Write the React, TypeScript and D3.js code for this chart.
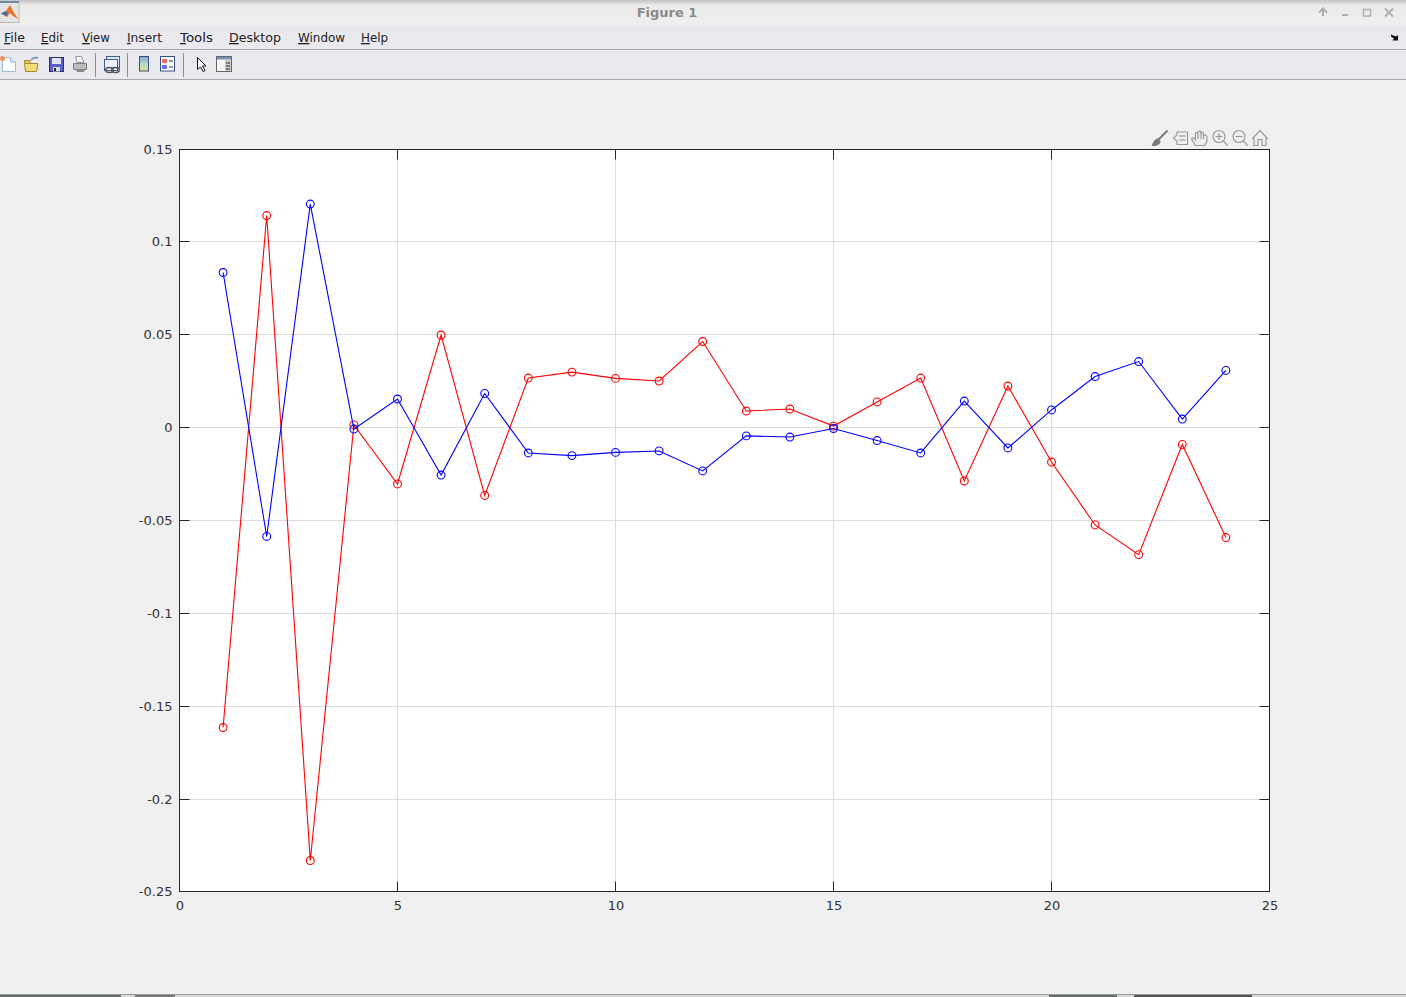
import React, { useRef, useEffect } from 'react';
import * as d3 from 'd3';

const xs = [1, 2, 3, 4, 5, 6, 7, 8, 9, 10, 11, 12, 13, 14, 15, 16, 17, 18, 19, 20, 21, 22, 23, 24];
const blueValues = [0.0837, -0.0586, 0.1206, -0.0007, 0.0155, -0.0255, 0.0185, -0.0136, -0.015, -0.0133, -0.0125, -0.0233, -0.0044, -0.005, -0.0004, -0.0069, -0.0136, 0.0144, -0.0109, 0.0096, 0.0276, 0.0357, 0.0047, 0.0309];
const redValues = [-0.1616, 0.1144, -0.2333, 0.0015, -0.0303, 0.05, -0.0365, 0.0268, 0.03, 0.0266, 0.0252, 0.0465, 0.009, 0.0101, 0.0009, 0.0139, 0.0268, -0.0287, 0.0225, -0.0185, -0.0524, -0.0684, -0.009, -0.0592];
const xTicks = [0, 5, 10, 15, 20, 25];
const yTicks = [-0.25, -0.2, -0.15, -0.1, -0.05, 0, 0.05, 0.1, 0.15];
const menuItems = ['File', 'Edit', 'View', 'Insert', 'Tools', 'Desktop', 'Window', 'Help'];
const menuLefts = [4, 41, 82, 127, 180, 229, 298, 361];
const menuWidths = [21, 23, 28, 35, 33, 52, 47, 27];

const W = 1406;
const H = 997;
const left = 179.5;
const right = 1269.5;
const top = 149.5;
const bottom = 891.5;

function Series({ values, color, x, y }: { values: number[]; color: string; x: any; y: any }) {
  const line = d3.line<number>().x((d, i) => x(xs[i])).y(d => y(d));
  return (
    <g>
      <path d={line(values) || ''} fill="none" stroke={color} strokeWidth={1.1} />
      {values.map((v, i) => (
        <circle key={i} cx={x(xs[i])} cy={y(v)} r={3.9} fill="none" stroke={color} strokeWidth={1.1} />
      ))}
    </g>
  );
}

function Toolbar() {
  const sep = [96, 128, 184];
  return (
    <g>
      {sep.map(s => <line key={s} x1={s - 0.5} x2={s - 0.5} y1={53} y2={77} stroke="#8e8e8e" />)}
      {/* new */}
      <path d="M2.500 57.500H10.500L15.500 62V71.500H2.500Z" fill="#fff" stroke="#9db8dc" />
      <path d="M10.500 57.500V62H15.500" fill="#dfe8f4" stroke="#9db8dc" />
      <circle cx={2.500} cy={58.500} r={2.500} fill="#f0925a" />
      {/* open */}
      <path d="M24.500 63.500H38L36.500 71.500H25.500Z" fill="#f2dc76" stroke="#a08a32" />
      <path d="M24.500 63V60.500H30V63" fill="#e8c95a" stroke="#a08a32" />
      <path d="M31 60Q34 56.500 38 58" fill="none" stroke="#5d86b5" strokeWidth={1.5} />
      {/* save */}
      <rect x={49.500} y={57.500} width={14} height={14} fill="#5860c4" stroke="#2a2f70" />
      <rect x={52} y={58} width={9} height={6} fill="#dfe2f2" />
      <rect x={53} y={67} width={7} height={4.500} fill="#d9d9d9" />
      <rect x={54} y={68} width={2} height={3} fill="#222" />
      {/* print */}
      <path d="M75.500 56.500H81.500L84 62.500H77Z" fill="#f2f2f2" stroke="#9a9a9a" />
      <path d="M73.500 63.500H86.500V69.500H73.500Z" fill="#bcbcbc" stroke="#7f7f7f" />
      <path d="M76 69.500H85L84 72H77Z" fill="#8a8a8a" />
      {/* link plot */}
      <rect x={106.500} y={56.500} width={13} height={11} fill="#dfe6f2" stroke="#3f5f90" />
      <rect x={104.500} y={59.500} width={13} height={11} fill="#eef2f8" stroke="#3f5f90" />
      <ellipse cx={109.500} cy={70} rx={3.800} ry={2.500} fill="none" stroke="#555" strokeWidth={1.4} />
      <ellipse cx={115.500} cy={70} rx={3.800} ry={2.500} fill="none" stroke="#555" strokeWidth={1.4} />
      {/* colorbar */}
      <defs>
        <linearGradient id="cbar" x1="0" x2="0" y1="0" y2="1">
          <stop offset="0" stopColor="#8f9fe0" />
          <stop offset="0.5" stopColor="#a8dcc8" />
          <stop offset="1" stopColor="#f2dc90" />
        </linearGradient>
      </defs>
      <rect x={139.500} y={56.500} width={9} height={14.500} fill="url(#cbar)" stroke="#35508a" />
      {/* legend */}
      <rect x={160.500} y={56.500} width={14} height={14.500} fill="#fff" stroke="#35508a" />
      <rect x={162} y={59} width={5} height={4} fill="#ec6a6a" />
      <rect x={162} y={65} width={5} height={4} fill="#6070ec" />
      <line x1={169} x2={173} y1={61} y2={61} stroke="#333" />
      <line x1={169} x2={173} y1={67} y2={67} stroke="#333" />
      {/* pointer */}
      <path d="M197.500 57.500V69.500L200.500 67L203 71.500L205 70.500L202.500 66H206Z" fill="#fff" stroke="#111" />
      {/* property editor */}
      <rect x={216.500} y={56.500} width={15} height={15} fill="#f4f4f4" stroke="#666" />
      <rect x={217} y={57} width={14} height={2.500} fill="#6f93bc" />
      <rect x={225} y={60} width={6} height={11} fill="#c8c8c8" />
      <line x1={226} x2={230} y1={63} y2={63} stroke="#333" />
      <line x1={226} x2={230} y1={66} y2={66} stroke="#333" />
      <line x1={226} x2={230} y1={69} y2={69} stroke="#333" />
    </g>
  );
}

function AxesToolbar() {
  const c = '#9a9a9a';
  return (
    <g fill="none" stroke={c} strokeWidth={1.2}>
      {/* brush */}
      <path d="M1167.500 130.500L1158 140" stroke="#7a7a7a" strokeWidth={2} />
      <path d="M1152.500 145.500Q1154 140 1157.500 139L1160 141.500Q1159 145.500 1152.500 145.500Z" fill="#7a7a7a" stroke="#7a7a7a" />
      {/* legend bubble */}
      <path d="M1177 132H1187.500V144.500H1177V141L1173.500 138L1177 135Z" />
      <line x1={1179} x2={1185.500} y1={136} y2={136} />
      <line x1={1179} x2={1185.500} y1={140} y2={140} />
      {/* hand */}
      <path d="M1195 145.500Q1194 142 1192 140Q1191 137.500 1194 138L1195.500 140V133Q1197.500 131.500 1198 134V131.500Q1200.500 130 1201 133V132.500Q1203.500 131.500 1203.500 134V135Q1206.500 134.500 1207 137V141L1204.500 145.500Z" />
      <path d="M1198 134V139M1201 133V139M1203.500 134V139" />
      {/* zoom in */}
      <circle cx={1219} cy={136.500} r={6} />
      <line x1={1223.500} x2={1227.500} y1={141} y2={145.500} />
      <line x1={1215.500} x2={1222.500} y1={136.500} y2={136.500} />
      <line x1={1219} x2={1219} y1={133} y2={140} />
      {/* zoom out */}
      <circle cx={1239} cy={136.500} r={6} />
      <line x1={1243.500} x2={1247.500} y1={141} y2={145.500} />
      <line x1={1235.500} x2={1242.500} y1={136.500} y2={136.500} />
      {/* home */}
      <path d="M1252 139L1260 130.500L1268 139M1254 138V145.500H1258V139.500H1262V145.500H1266V138" />
    </g>
  );
}

export default function App() {
  const xRef = useRef<SVGGElement>(null);
  const yRef = useRef<SVGGElement>(null);

  const x = d3.scaleLinear().domain([0, 25]).range([left, right]);
  const y = d3.scaleLinear().domain([-0.25, 0.15]).range([bottom, top]);
  // inner grid and ticks sit on whole pixels, 93px apart
  const tickY = d3.scaleLinear().domain([-0.25, -0.2, 0.1, 0.15]).range([bottom, 799.5, 241.5, top]);

  useEffect(() => {
    const xAxis = d3.select(xRef.current!)
      .call(d3.axisBottom(x).tickValues(xTicks).tickSize(0).tickPadding(9).tickFormat(d => String(d)) as any);
    xAxis.select('.domain').remove();
    const yAxis = d3.select(yRef.current!)
      .call(d3.axisLeft(tickY).tickValues(yTicks).tickSize(0).tickPadding(7).tickFormat(d => String(d)) as any);
    yAxis.select('.domain').remove();
    [xAxis, yAxis].forEach(a => {
      a.attr('font-family', '"DejaVu Sans"').attr('font-size', 13);
      a.selectAll('text').attr('fill', '#333333');
    });
  }, []);

  return (
    <svg width={W} height={H} style={{ position: 'fixed', left: 0, top: 0, display: 'block' }} fontFamily='"DejaVu Sans"'>
      <rect width={W} height={H} fill="#f0f0f0" />

      {/* window title bar */}
      <defs>
        <linearGradient id="titleGrad" x1="0" x2="0" y1="0" y2="1">
          <stop offset="0" stopColor="#c4c4c4" />
          <stop offset="0.2" stopColor="#ebebe9" />
          <stop offset="1" stopColor="#efefed" />
        </linearGradient>
      </defs>
      <rect width={W} height={26} fill="url(#titleGrad)" />
      <rect x={-1} y={1.500} width={20} height={21} fill="#e4e4e4" stroke="#bbb" />
      <rect x={0} y={1} width={19} height={2} fill="#6d89a8" />
      <path d="M1 13.500L6 11L10 5L13 11L18 19L13 16L10 13L7 17Z" fill="#e8742a" />
      <path d="M1 13.500L6 11L8 14L6 16Z" fill="#3a6ea5" />
      <text x={667} y={17} textAnchor="middle" fontSize={13} fontWeight="bold" fill="#8a8a8a">Figure 1</text>
      <g stroke="#b0b0b0" fill="none" strokeWidth={1.5}>
        <path d="M1319 12.500L1323 8.500L1327 12.500M1323 9V16" strokeWidth={2} />
        <line x1={1342} x2={1348} y1={15} y2={15} strokeWidth={2} />
        <rect x={1363.500} y={9.500} width={7} height={6.500} />
        <path d="M1385 8.500L1393 16.500M1393 8.500L1385 16.500" strokeWidth={2} />
      </g>

      {/* menu bar and toolbar */}
      <rect y={26} width={W} height={23} fill="#eae9ee" />
      <line x1={0} x2={W} y1={49.500} y2={49.500} stroke="#a8a8a8" />
      <rect y={50} width={W} height={29} fill="#eae9ee" />
      <line x1={0} x2={W} y1={79.500} y2={79.500} stroke="#a8a8a8" />
      {menuItems.map((m, i) => (
        <text key={m} x={menuLefts[i]} y={42} fontSize={13} fill="#222" textLength={menuWidths[i]} lengthAdjust="spacingAndGlyphs">
          <tspan textDecoration="underline">{m.slice(0, 1)}</tspan>{m.slice(1)}
        </text>
      ))}
      <path d="M1391 34.500L1396 36.500L1398 35V40.500H1392.500L1394 38.500L1391 36.500Z" fill="#111" />
      <Toolbar />
      <AxesToolbar />

      {/* axes */}
      <rect x={left} y={top} width={right - left} height={bottom - top} fill="#fff" />
      <g stroke="#dcdcdc" strokeWidth={1}>
        {xTicks.slice(1, -1).map(t => <line key={t} x1={x(t)} x2={x(t)} y1={top} y2={bottom} />)}
        {yTicks.slice(1, -1).map(t => <line key={t} x1={left} x2={right} y1={tickY(t)} y2={tickY(t)} />)}
      </g>
      <g stroke="#262626" strokeWidth={1}>
        {xTicks.slice(1, -1).map(t => (
          <g key={t}>
            <line x1={x(t)} x2={x(t)} y1={bottom} y2={bottom - 10} />
            <line x1={x(t)} x2={x(t)} y1={top} y2={top + 10} />
          </g>
        ))}
        {yTicks.slice(1, -1).map(t => (
          <g key={t}>
            <line x1={left} x2={left + 10} y1={tickY(t)} y2={tickY(t)} />
            <line x1={right} x2={right - 10} y1={tickY(t)} y2={tickY(t)} />
          </g>
        ))}
      </g>
      <Series values={redValues} color="#ff0000" x={x} y={y} />
      <Series values={blueValues} color="#0000ff" x={x} y={y} />
      <rect x={left} y={top} width={right - left} height={bottom - top} fill="none" stroke="#262626" />
      <g ref={xRef} transform={`translate(0,${bottom})`} />
      <g ref={yRef} transform={`translate(${left},0)`} />

      {/* bottom edge of the window, taskbar peeking through */}
      <line x1={0} x2={W} y1={994.500} y2={994.500} stroke="#9a9a9a" />
      <rect y={995} width={W} height={2} fill="#d8d8d8" />
      <rect y={995} width={121} height={2} fill="#5d6f68" />
      <rect x={1049} y={995} width={68} height={2} fill="#5d6f68" />
      <rect x={1134} y={995} width={118} height={2} fill="#555" />
      <rect x={135} y={995} width={40} height={2} fill="#777" />
    </svg>
  );
}
